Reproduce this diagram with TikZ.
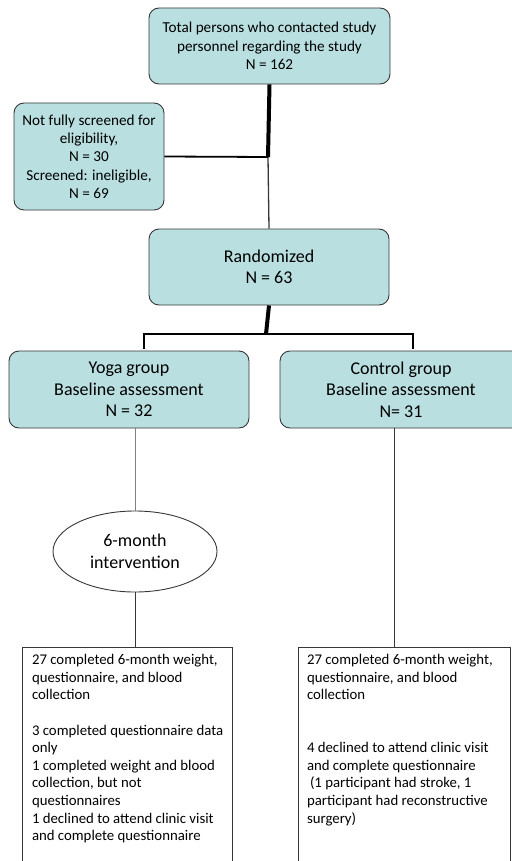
\documentclass[tikz,border=0pt]{standalone}
\usepackage{fontspec}
\setmainfont{Carlito}
\usetikzlibrary{shapes.geometric}
\definecolor{boxfill}{RGB}{185,223,224}
\definecolor{boxline}{RGB}{55,55,55}
\begin{document}
\begin{tikzpicture}[x=1pt, y=1pt, thin line/.style={draw=boxline, line width=0.8pt},
  thick line/.style={draw=black, line width=4pt},
  bar line/.style={draw=black, line width=2.6pt},
  round box/.style={rectangle, rounded corners=10pt, draw=boxline, fill=boxfill, line width=0.9pt, align=center, inner sep=2pt},
  plain box/.style={rectangle, draw=boxline, line width=0.9pt, inner sep=0pt, anchor=north},
  oval node/.style={ellipse, draw=boxline, line width=0.9pt, align=center, inner sep=0pt}]
\useasboundingbox (0,0) rectangle (511,-861);
\begin{scope}[every node/.style={font=\fontsize{15.2}{18.3}\selectfont}]
\node[round box, minimum width=241pt, minimum height=76pt] (total) at (269.5,-46) {Total persons who contacted study\\personnel regarding the study\\N = 162};
\node[round box, minimum width=150pt, minimum height=107pt] (screen) at (89,-156.5) {Not fully screened for\\eligibility,\\N = 30\\Screened: ineligible,\\N = 69};
\end{scope}
\begin{scope}[every node/.style={font=\fontsize{18}{21.5}\selectfont}]
\node[round box, minimum width=240pt, minimum height=76pt] (rand) at (269,-267) {Randomized\\N = 63};
\node[round box, minimum width=240pt, minimum height=77pt] (yoga) at (129,-389.5) {Yoga group\\Baseline assessment\\N = 32};
\node[round box, minimum width=242pt, minimum height=77pt] (ctrl) at (401,-389.5) {Control group\\Baseline assessment\\N= 31};
\node[oval node, minimum width=164pt, minimum height=81pt] (interv) at (135,-551.5) {6-month\\intervention};
\end{scope}
\begin{scope}[every node/.style={font=\fontsize{14.8}{17.6}\selectfont}]
\node[plain box] (outyoga) at (127,-647) {\begin{minipage}[t][240pt][t]{210pt}\raggedright\leftskip=10pt\vspace{7pt}
27 completed 6-month weight,\\questionnaire, and blood\\collection\\[17.6pt]
3 completed questionnaire data\\only\\1 completed weight and blood\\collection, but not\\questionnaires\\1 declined to attend clinic visit\\and complete questionnaire\end{minipage}};
\node[plain box] (outctrl) at (404,-647) {\begin{minipage}[t][240pt][t]{212pt}\raggedright\leftskip=9pt\vspace{7pt}
27 completed 6-month weight,\\questionnaire, and blood\\collection\\[35.2pt]
4 declined to attend clinic visit\\and complete questionnaire\\\hspace*{3pt}(1 participant had stroke, 1\\participant had reconstructive\\surgery)\end{minipage}};
\end{scope}
\coordinate (split) at (268,-157);
\coordinate (fork) at (266,-334);
\coordinate (forkL) at (144,-349);
\coordinate (forkR) at (413,-349);
\coordinate (ctrldown) at (394,-428);
\draw[thick line] (total.south) -- (split);
\draw[thin line, line width=1.3pt] (split) -- (rand.north);
\draw[bar line, line width=1.8pt] (screen.east) -- (split);
\draw[thick line] (rand.south) -- (fork);
\draw[bar line] (forkL) |- (fork) -| (forkR);
\draw[thin line, draw=gray] (interv.north) -- (interv.north |- yoga.south);
\draw[thin line] (interv.south) -- (interv.south |- outyoga.north);
\draw[thin line] (ctrldown) -- (ctrldown |- outctrl.north);
\end{tikzpicture}
\end{document}
